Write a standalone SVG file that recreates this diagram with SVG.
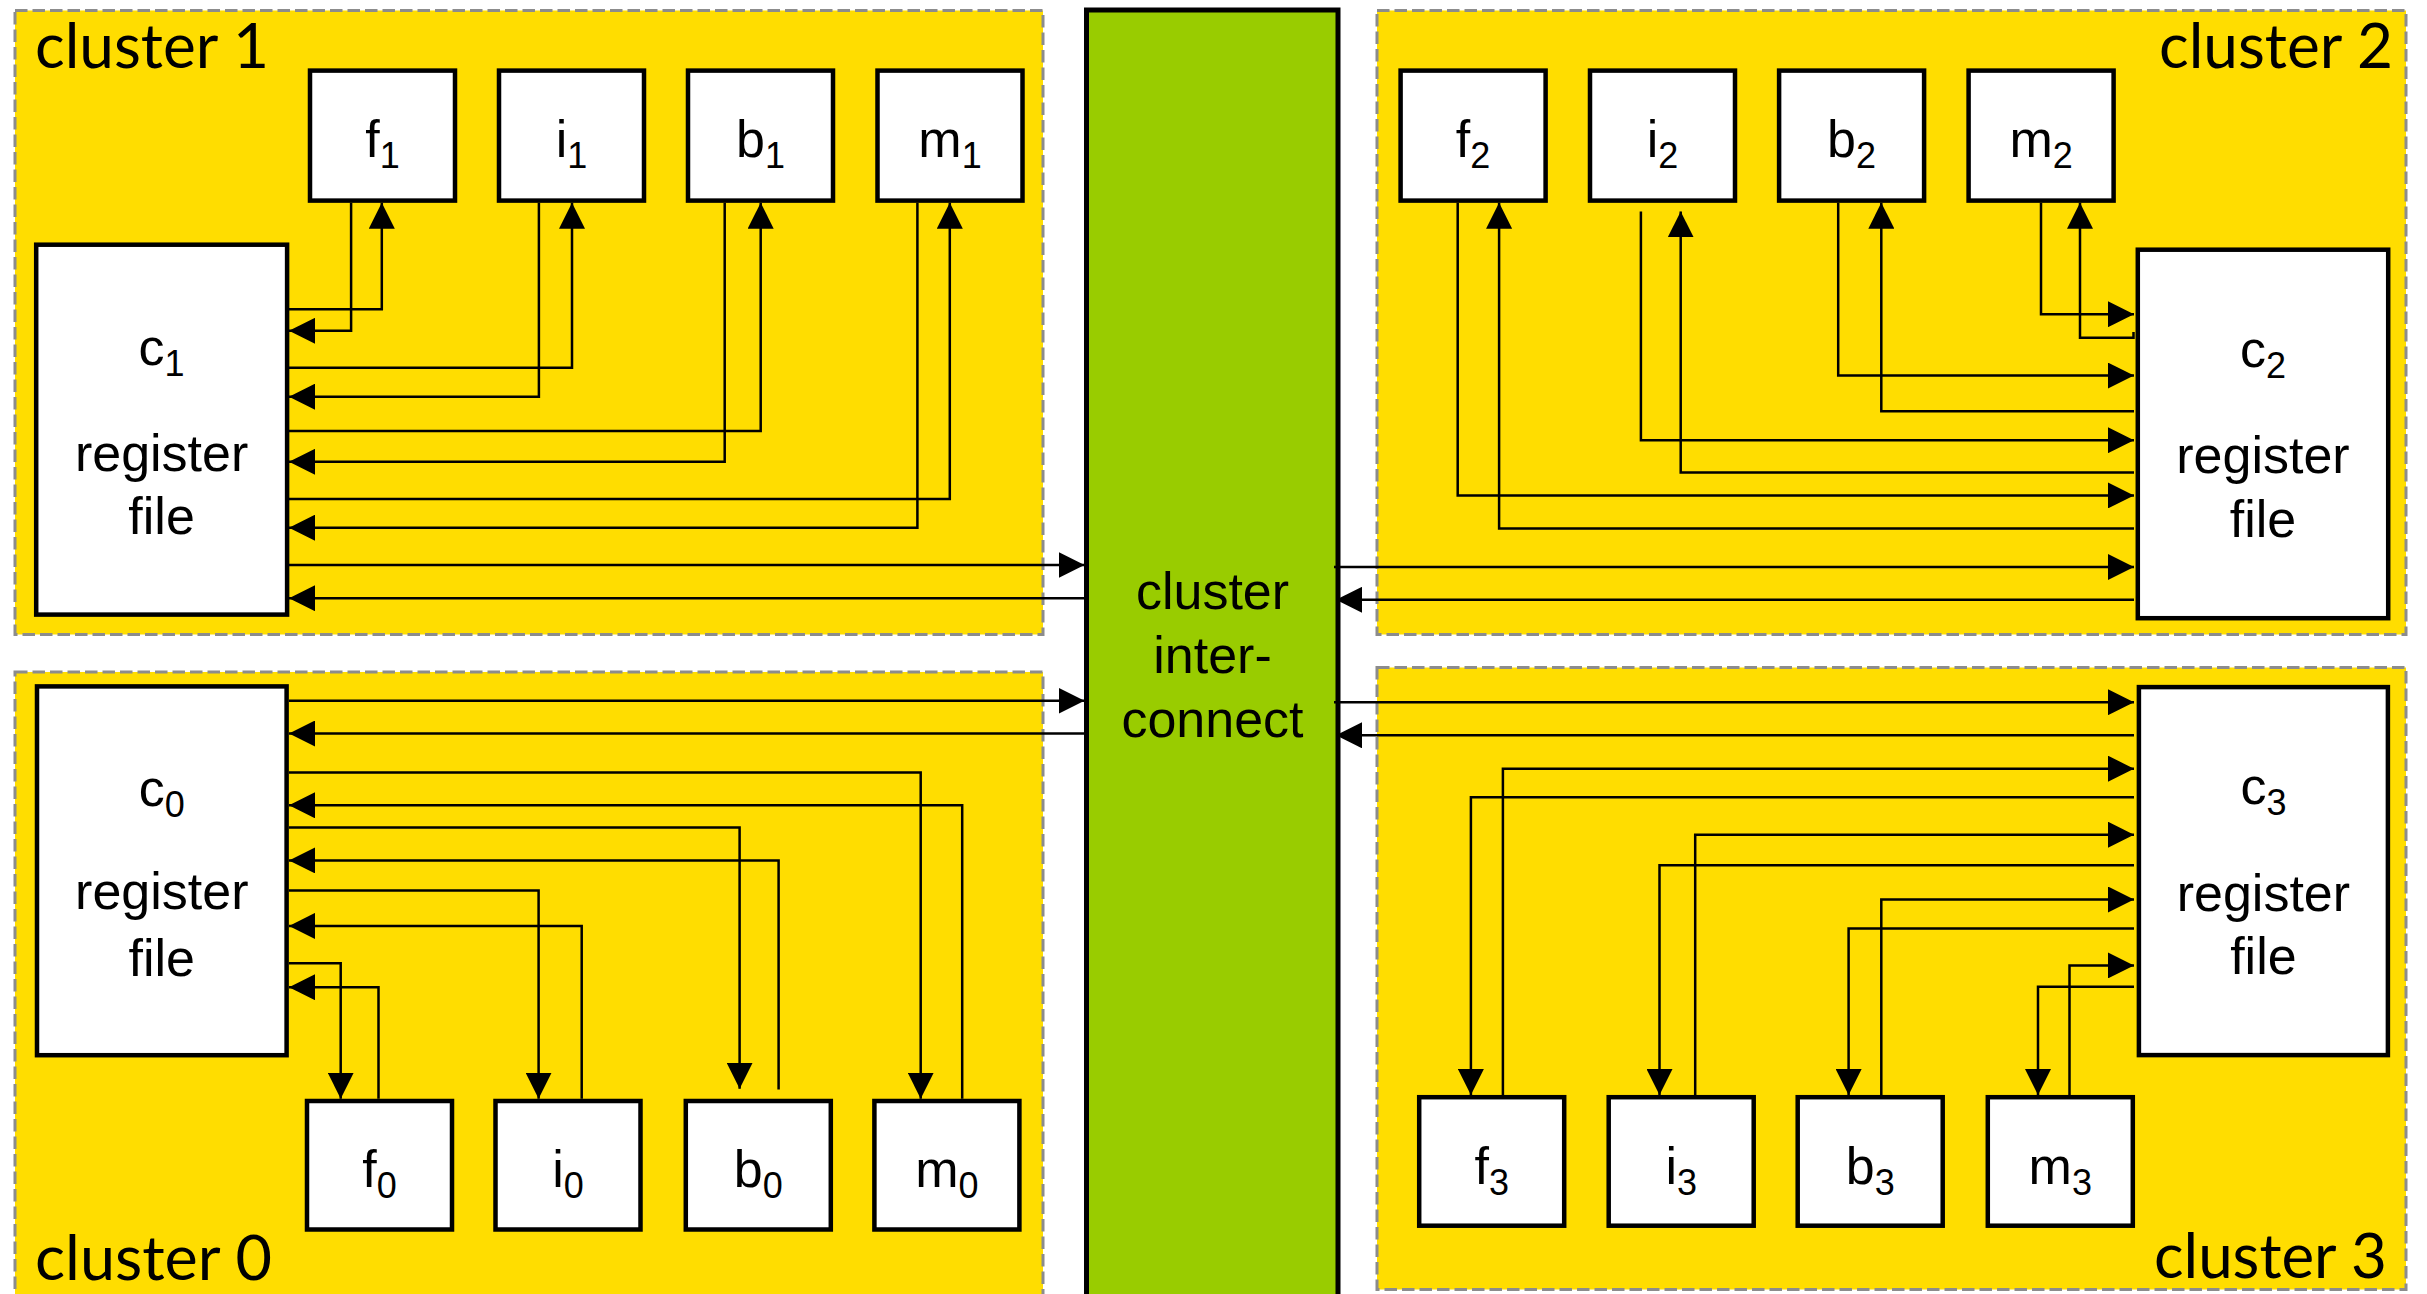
<svg xmlns="http://www.w3.org/2000/svg" width="2427" height="1294" viewBox="0 0 2427 1294">
  <defs>
    <marker id="ah" markerUnits="userSpaceOnUse" markerWidth="26" markerHeight="26" refX="25" refY="12.5" orient="auto" viewBox="0 0 25 25">
      <path d="M0,0 L25,12.5 L0,25 z" fill="#000"/>
    </marker>
    <style>
      .cl { fill:#FFDD00; stroke:#8C8C8C; stroke-width:3; stroke-dasharray:12.5 5; }
      .nd { fill:#fff; stroke:#000; stroke-width:4.5; }
      .ic { fill:#99CC00; stroke:#000; stroke-width:5; }
      .wire { fill:none; stroke:#000; stroke-width:2.5; marker-end:url(#ah); }
      .lbl { font-family:"Liberation Sans",Arial,sans-serif; font-size:52px; text-anchor:middle; fill:#000; }
      .sub { font-size:36px; }
      .cname { font-family:Lato,"Open Sans",sans-serif; font-size:62px; fill:#000; }
    </style>
  </defs>

  <rect width="2427" height="1294" fill="#fff"/>

  <!-- cluster backgrounds -->
  <g id="cluster1"><rect class="cl" x="15" y="10.5" width="1028" height="624"/>
    <text class="cname" x="35" y="67.6" textLength="234" lengthAdjust="spacingAndGlyphs">cluster 1</text></g>
  <g id="cluster2"><rect class="cl" x="1377" y="10.5" width="1029" height="624"/>
    <text class="cname" x="2393" y="67.6" text-anchor="end" textLength="234" lengthAdjust="spacingAndGlyphs">cluster 2</text></g>
  <g id="cluster0"><rect class="cl" x="15" y="672" width="1028" height="628"/>
    <text class="cname" x="35" y="1280" textLength="237" lengthAdjust="spacingAndGlyphs">cluster 0</text></g>
  <g id="cluster3"><rect class="cl" x="1377" y="667.5" width="1029" height="622"/>
    <text class="cname" x="2387" y="1278" text-anchor="end" textLength="233" lengthAdjust="spacingAndGlyphs">cluster 3</text></g>

  <!-- interconnect -->
  <g id="interconnect">
    <rect class="ic" x="1086.5" y="10" width="251.5" height="1300"/>
    <text class="lbl" x="1212.5" y="608.8">cluster</text>
    <text class="lbl" x="1212.5" y="673">inter-</text>
    <text class="lbl" x="1212.5" y="736.5">connect</text>
  </g>

  <!-- register files -->
  <g id="c1"><rect class="nd" x="36.2" y="244.7" width="250.9" height="369.9"/>
    <text class="lbl" x="161.6" y="365">c<tspan class="sub" dy="11">1</tspan></text>
    <text class="lbl" x="161.6" y="470.5">register</text>
    <text class="lbl" x="161.6" y="534">file</text></g>
  <g id="c0"><rect class="nd" x="37" y="686.4" width="249.6" height="368.8"/>
    <text class="lbl" x="161.8" y="805.6">c<tspan class="sub" dy="11">0</tspan></text>
    <text class="lbl" x="161.8" y="909.3">register</text>
    <text class="lbl" x="161.8" y="975.6">file</text></g>
  <g id="c2"><rect class="nd" x="2137.8" y="249.7" width="250.4" height="368.5"/>
    <text class="lbl" x="2263" y="367">c<tspan class="sub" dy="11">2</tspan></text>
    <text class="lbl" x="2263" y="472.6">register</text>
    <text class="lbl" x="2263" y="536.8">file</text></g>
  <g id="c3"><rect class="nd" x="2138.9" y="687.1" width="249" height="368"/>
    <text class="lbl" x="2263.4" y="804">c<tspan class="sub" dy="11">3</tspan></text>
    <text class="lbl" x="2263.4" y="910.8">register</text>
    <text class="lbl" x="2263.4" y="974.4">file</text></g>

  <!-- functional units, cluster 1 -->
  <g id="f1"><rect class="nd" x="310" y="70.6" width="145" height="130"/><text class="lbl" x="382.5" y="157">f<tspan class="sub" dy="11">1</tspan></text></g>
  <g id="i1"><rect class="nd" x="499" y="70.6" width="145" height="130"/><text class="lbl" x="571.5" y="157">i<tspan class="sub" dy="11">1</tspan></text></g>
  <g id="b1"><rect class="nd" x="688" y="70.6" width="145" height="130"/><text class="lbl" x="760.5" y="157">b<tspan class="sub" dy="11">1</tspan></text></g>
  <g id="m1"><rect class="nd" x="877.5" y="70.6" width="145" height="130"/><text class="lbl" x="950" y="157">m<tspan class="sub" dy="11">1</tspan></text></g>

  <!-- functional units, cluster 2 -->
  <g id="f2"><rect class="nd" x="1400.6" y="70.6" width="145" height="130"/><text class="lbl" x="1473.1" y="157">f<tspan class="sub" dy="11">2</tspan></text></g>
  <g id="i2"><rect class="nd" x="1590" y="70.6" width="145" height="130"/><text class="lbl" x="1662.5" y="157">i<tspan class="sub" dy="11">2</tspan></text></g>
  <g id="b2"><rect class="nd" x="1779.1" y="70.6" width="145" height="130"/><text class="lbl" x="1851.6" y="157">b<tspan class="sub" dy="11">2</tspan></text></g>
  <g id="m2"><rect class="nd" x="1968.6" y="70.6" width="145" height="130"/><text class="lbl" x="2041.1" y="157">m<tspan class="sub" dy="11">2</tspan></text></g>

  <!-- functional units, cluster 0 -->
  <g id="f0"><rect class="nd" x="307" y="1101" width="145" height="128.5"/><text class="lbl" x="379.5" y="1187">f<tspan class="sub" dy="11">0</tspan></text></g>
  <g id="i0"><rect class="nd" x="495.5" y="1101" width="145" height="128.5"/><text class="lbl" x="568" y="1187">i<tspan class="sub" dy="11">0</tspan></text></g>
  <g id="b0"><rect class="nd" x="685.8" y="1101" width="145" height="128.5"/><text class="lbl" x="758.3" y="1187">b<tspan class="sub" dy="11">0</tspan></text></g>
  <g id="m0"><rect class="nd" x="874.4" y="1101" width="145" height="128.5"/><text class="lbl" x="946.9" y="1187">m<tspan class="sub" dy="11">0</tspan></text></g>

  <!-- functional units, cluster 3 -->
  <g id="f3"><rect class="nd" x="1419.2" y="1097.2" width="145" height="128.5"/><text class="lbl" x="1491.7" y="1184">f<tspan class="sub" dy="11">3</tspan></text></g>
  <g id="i3"><rect class="nd" x="1608.7" y="1097.2" width="145" height="128.5"/><text class="lbl" x="1681.2" y="1184">i<tspan class="sub" dy="11">3</tspan></text></g>
  <g id="b3"><rect class="nd" x="1797.7" y="1097.2" width="145" height="128.5"/><text class="lbl" x="1870.2" y="1184">b<tspan class="sub" dy="11">3</tspan></text></g>
  <g id="m3"><rect class="nd" x="1987.8" y="1097.2" width="145" height="128.5"/><text class="lbl" x="2060.3" y="1184">m<tspan class="sub" dy="11">3</tspan></text></g>

  <!-- connectors -->
  <g id="connectors">
    <!-- cluster 1 -->
    <path class="wire" d="M289,309.2 H381.8 V202.7"/>
    <path class="wire" d="M351.1,202.7 V330.8 H289"/>
    <path class="wire" d="M289,367.7 H572 V202.7"/>
    <path class="wire" d="M538.9,202.7 V396.7 H289"/>
    <path class="wire" d="M289,431.1 H760.7 V202.7"/>
    <path class="wire" d="M724.7,202.7 V461.8 H289"/>
    <path class="wire" d="M289,499.1 H949.8 V202.7"/>
    <path class="wire" d="M917.4,202.7 V527.7 H289"/>
    <path class="wire" d="M289,565 H1084.5"/>
    <path class="wire" d="M1084.5,598.2 H289"/>
    <!-- cluster 2 -->
    <path class="wire" d="M1457.7,202.7 V495.4 H2134"/>
    <path class="wire" d="M2134,528.5 H1499.1 V202.7"/>
    <path class="wire" d="M1640.9,211.4 V440.2 H2134"/>
    <path class="wire" d="M2134,472.6 H1680.7 V211.4"/>
    <path class="wire" d="M1838.2,202.7 V375.6 H2134"/>
    <path class="wire" d="M2134,411.2 H1881.3 V202.7"/>
    <path class="wire" d="M2041,202.7 V314.2 H2134"/>
    <path class="wire" d="M2133.5,332 V337.8 H2080 V202.7"/>
    <path class="wire" d="M1334,567 H2134"/>
    <path class="wire" d="M2134,599.8 H1336"/>
    <!-- cluster 0 -->
    <path class="wire" d="M289,700.8 H1084.5"/>
    <path class="wire" d="M1084.5,733.5 H289"/>
    <path class="wire" d="M289,772.5 H920.7 V1098.7"/>
    <path class="wire" d="M962.2,1098.7 V805.3 H289"/>
    <path class="wire" d="M289,827.6 H739.6 V1088.8"/>
    <path class="wire" d="M778.6,1089.6 V860.4 H289"/>
    <path class="wire" d="M289,890.6 H538.6 V1098.7"/>
    <path class="wire" d="M581.7,1098.7 V925.9 H289"/>
    <path class="wire" d="M289,963.2 H340.7 V1098.7"/>
    <path class="wire" d="M378.5,1098.7 V987.2 H289"/>
    <!-- cluster 3 -->
    <path class="wire" d="M1334,702.2 H2134"/>
    <path class="wire" d="M2134,735.3 H1336"/>
    <path class="wire" d="M1502.9,1095 V768.7 H2134"/>
    <path class="wire" d="M2134,797.2 H1470.9 V1095"/>
    <path class="wire" d="M1695.2,1095 V834.7 H2134"/>
    <path class="wire" d="M2134,865.3 H1659.5 V1095"/>
    <path class="wire" d="M1881.3,1095 V899.5 H2134"/>
    <path class="wire" d="M2134,928.4 H1848.6 V1095"/>
    <path class="wire" d="M2069.5,1095 V965.4 H2134"/>
    <path class="wire" d="M2134,986.8 H2038 V1095"/>
  </g>
</svg>
